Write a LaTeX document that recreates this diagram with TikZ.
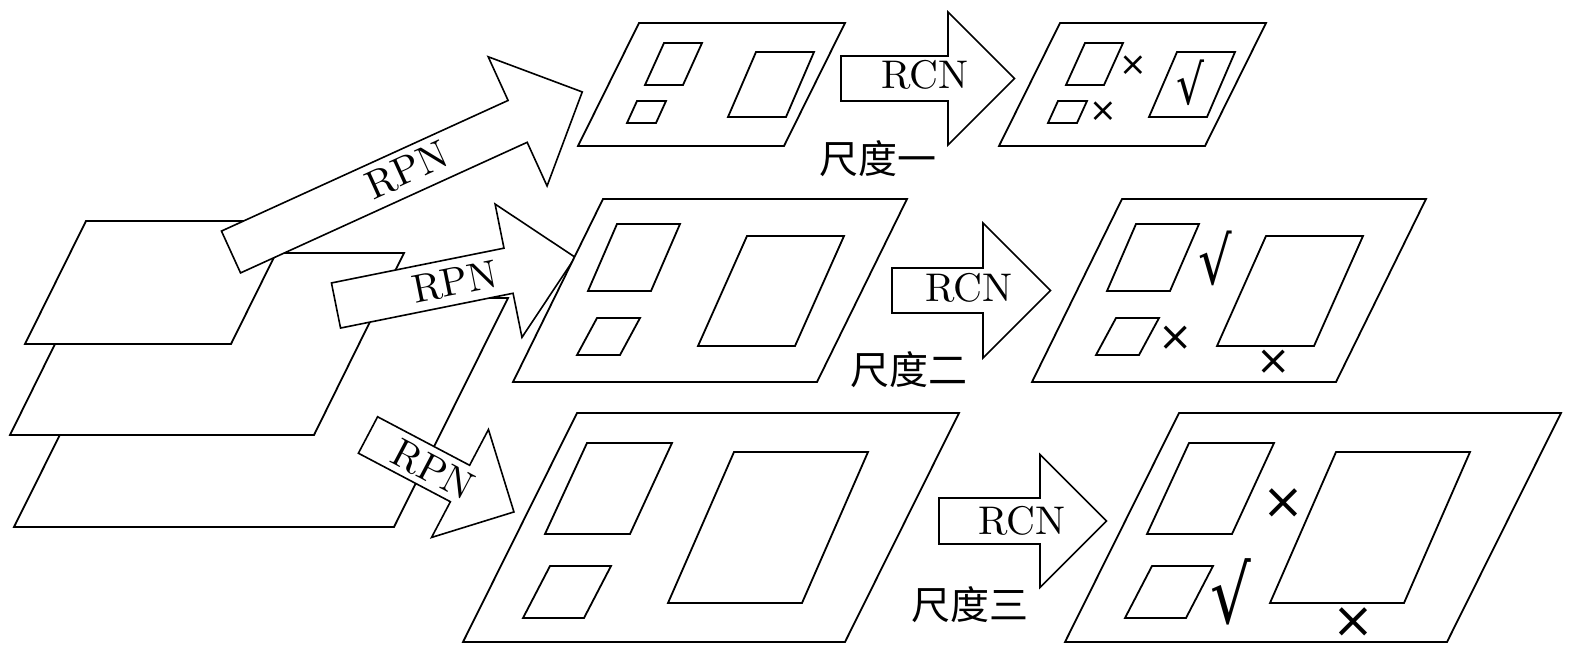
\documentclass[tikz,border=0pt]{standalone}
\usepackage{fontspec}
\newfontfamily\lmten{lmroman10-regular}[Extension=.otf]
\newfontfamily\cjkfont{Noto Sans CJK SC}
\newfontfamily\symfont{DejaVu Sans}
\newcommand\parl[5]{% x y (bottom-left), w, h, skew
  (#1,#2) -- ++(#3,0) -- ++(#5,-#4) -- ++(-#3,0) -- cycle}
\newcommand\fatarrow[6]{% x,y (tail middle), angle, shaft length, half width, head extend
  \begin{scope}[shift={(#1,#2)},rotate=#3]
    \draw[arr] (0,-#5) -- (#4,-#5) -- (#4,-#5-#6) -- (#4+#5+#6,0)
      -- (#4,#5+#6) -- (#4,#5) -- (0,#5) -- cycle;
  \end{scope}}
\newcommand\okmark{\scalebox{0.8}[1]{√}}
\begin{document}
\begin{tikzpicture}[x=1pt,y=-1pt,
  plane/.style={draw=black,fill=white,line width=1.8pt,line join=miter},
  inbox/.style={draw=black,line width=1.8pt,line join=miter},
  arr/.style={draw=black,fill=white,line width=1.6pt,line join=miter},
  lbl/.style={inner sep=0pt,font=\lmten\fontsize{40}{47}\selectfont},
  cjk/.style={inner sep=0pt,font=\cjkfont\fontsize{39}{46}\selectfont},
  xsmall/.style={inner sep=0pt,font=\symfont\fontsize{33}{40}\selectfont},
  xmid/.style={inner sep=0pt,font=\symfont\fontsize{41}{48}\selectfont},
  xbig/.style={inner sep=0pt,font=\symfont\fontsize{50}{58}\selectfont},
  oksmall/.style={inner sep=0pt,font=\symfont\fontsize{55}{60}\selectfont},
  okmid/.style={inner sep=0pt,font=\symfont\fontsize{66}{72}\selectfont},
  okbig/.style={inner sep=0pt,font=\symfont\fontsize{80}{88}\selectfont}]
\useasboundingbox (0,0) rectangle (1575,650);

% left stack of feature maps
\draw[plane] \parl{14}{527}{380}{229}{114};
\draw[plane] \parl{10}{435}{304}{182}{90};
\draw[plane] \parl{25}{344}{206}{123}{61};

% RPN arrows
\fatarrow{368}{435}{-27.8}{104}{20.6}{40.4}
\fatarrow{336}{305.5}{11.4}{176}{23}{45}
\fatarrow{231}{252}{24.5}{315}{23}{48}
\node[lbl,rotate=24.5] (rpn1) at (407,170) {RPN};
\node[lbl,rotate=11.4] (rpn2) at (455,282) {RPN};
\node[lbl,rotate=-27.8] (rpn3) at (433,470) {RPN};

% scale 1 proposals
\draw[plane] \parl{578}{146}{206}{123}{61};
\draw[inbox] \parl{645}{85}{38}{42}{19};
\draw[inbox] \parl{627}{123}{29}{22}{10};
\draw[inbox] \parl{728}{117}{58}{65}{28};
% scale 2 proposals
\draw[plane] \parl{513}{382}{304}{183}{90};
\draw[inbox] \parl{588}{291}{63}{67}{29};
\draw[inbox] \parl{577}{355}{43}{37}{20};
\draw[inbox] \parl{698}{346}{97}{110}{49};
% scale 3 proposals
\draw[plane] \parl{463}{642}{382}{229}{114};
\draw[inbox] \parl{545}{534}{85}{91}{42};
\draw[inbox] \parl{523}{618}{61}{52}{27};
\draw[inbox] \parl{668}{603}{134}{151}{66};

% RCN arrows
\fatarrow{841}{78.5}{0}{107}{22.5}{44}
\fatarrow{892}{290.5}{0}{91}{22.5}{45}
\fatarrow{939}{521}{0}{101}{23}{43.5}
\node[lbl] (rcn1) at (925,75) {RCN};
\node[lbl] (rcn2) at (969,288) {RCN};
\node[lbl] (rcn3) at (1022,521) {RCN};

\node[cjk] (s1) at (878,159) {尺度一};
\node[cjk] (s2) at (909,370) {尺度二};
\node[cjk] (s3) at (970,605) {尺度三};

% scale 1 classified
\begin{scope}[xshift=421pt]
\draw[plane] \parl{578}{146}{206}{123}{61};
\draw[inbox] \parl{645}{85}{38}{42}{19};
\draw[inbox] \parl{627}{123}{29}{22}{10};
\draw[inbox] \parl{728}{117}{58}{65}{28};
\end{scope}
\node[xsmall] (m1a) at (1133,66) {×};
\node[xsmall] (m1b) at (1103,112) {×};
\node[oksmall] (m1c) at (1191,82.5) {\okmark};
% scale 2 classified
\begin{scope}[xshift=519pt]
\draw[plane] \parl{513}{382}{304}{183}{90};
\draw[inbox] \parl{588}{291}{63}{67}{29};
\draw[inbox] \parl{577}{355}{43}{37}{20};
\draw[inbox] \parl{698}{346}{97}{110}{49};
\end{scope}
\node[okmid] (m2a) at (1215,258) {\okmark};
\node[xmid] (m2b) at (1176,338) {×};
\node[xmid] (m2c) at (1274,362) {×};
% scale 3 classified
\begin{scope}[xshift=602pt]
\draw[plane] \parl{463}{642}{382}{229}{114};
\draw[inbox] \parl{545}{534}{85}{91}{42};
\draw[inbox] \parl{523}{618}{61}{52}{27};
\draw[inbox] \parl{668}{603}{134}{151}{66};
\end{scope}
\node[xbig] (m3a) at (1283,504) {×};
\node[okbig] (m3b) at (1231,591.5) {\okmark};
\node[xbig] (m3c) at (1353,623) {×};
\end{tikzpicture}
\end{document}
